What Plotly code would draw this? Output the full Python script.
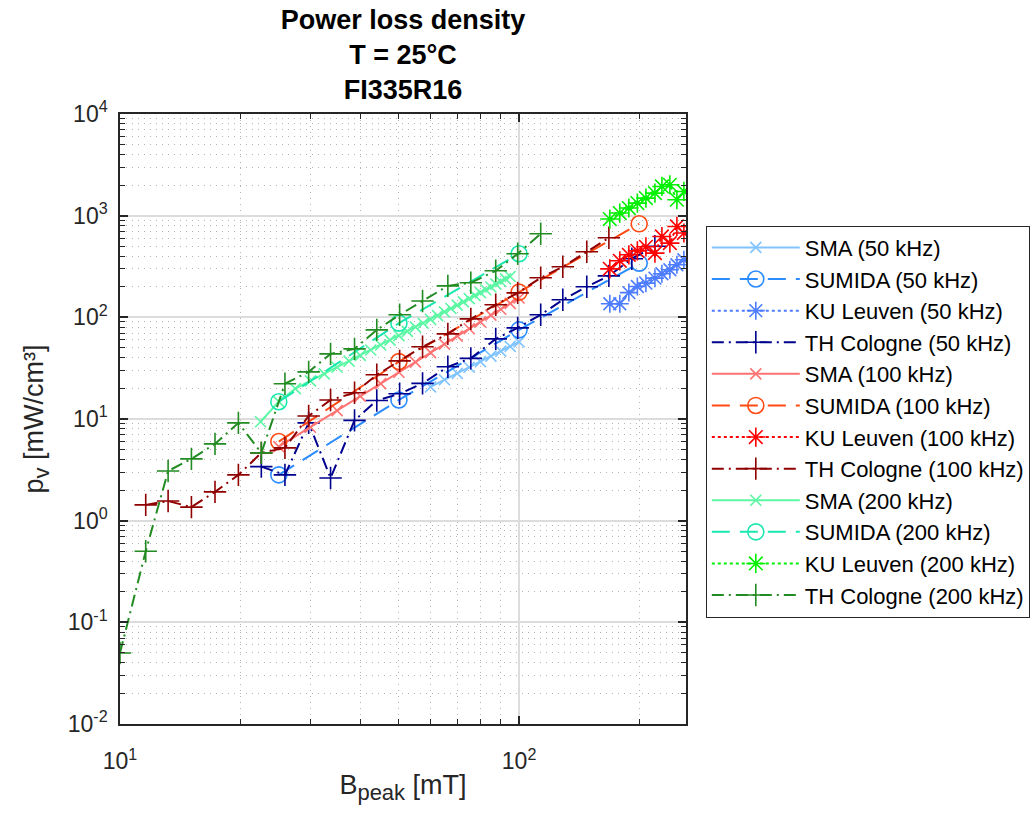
import math
import plotly.graph_objects as go

# ---------------- data ----------------
# SMA
B_sma50 = [60, 65, 70, 75, 80, 85, 90, 95, 100]
P_sma50 = [20.7, 24.3, 28.1, 32.3, 36.7, 41.5, 46.5, 51.8, 57.4]

B_sma100 = [25, 30, 35, 40, 45, 50, 55, 60, 65, 70, 75, 80, 85, 90, 95, 100]
P_sma100 = [5.35, 8.3, 12.1, 16.8, 22.3, 28.8, 36.3, 44.9, 54.5, 65.3, 77.2, 90.3, 105, 120, 137, 155]

B_sma200 = [22.5, 25, 27.5, 30, 32.5, 35, 37.5, 40, 42.5, 45, 47.5, 50, 52.5, 55, 57.5, 60,
            62.5, 65, 67.5, 70, 72.5, 75, 77.5, 80, 82.5, 85, 87.5, 90, 92.5, 95]
P_sma200 = [9.4, 14.8, 19.9, 23.7, 27.8, 32.3, 37.1, 42.2, 47.7, 53.5, 59.6, 66.1, 72.8, 80.0, 87.5, 95.4,
            104, 113, 122, 132, 142, 153, 164, 175, 187, 199, 212, 225, 239, 252]

# SUMIDA
B_sum = [25, 50, 100, 200]
P_sum50 = [2.82, 15.4, 75.3, 341]
P_sum100 = [6.0, 36.7, 177, 832]
B_sum200 = [25, 50, 100]
P_sum200 = [14.8, 87.7, 422]

# KU Leuven
B_ku = [168.8, 178.8, 188.4, 197.9, 207.9, 219, 228, 238.7, 248.6, 258.8]
P_ku50 = [136, 136, 175, 201, 217, 243, 268, 294, 329, 368]
P_ku100 = [300, 360, 412, 451, 494, 428, 624, 537, 783, 675]
P_ku200 = [926, 1061, 1189, 1330, 1489, 1667, 1938, 2014, 1434, 1731]

# TH Cologne
B_th200 = [10, 11.6, 13.2, 15.1, 17.3, 19.8, 22.6, 25.9, 29.7, 33.7, 38.7, 44, 50.2, 57.3,
           66.3, 75.7, 87.4, 99.2, 113.3]
P_th200 = [0.05, 0.50, 3.08, 4.05, 5.69, 9.16, 4.64, 22.2, 29.1, 43.7, 49, 75.3, 106, 145,
           204, 219, 287, 422, 663]
B_th100 = [11.6, 13.2, 15.1, 17.3, 19.8, 22.6, 25.9, 29.7, 33.7, 38.7, 44, 50.2, 57.3, 66.3,
           75.7, 87.4, 99.2, 113.3, 128.7, 147.8, 167.9]
P_th100 = [1.43, 1.56, 1.36, 1.92, 2.82, 4.64, 5.2, 10.7, 15.4, 18.1, 27.2, 37.3, 51.3, 68.8,
           96.6, 133, 174, 245, 314, 441, 606]
B_th50 = [22.6, 25.9, 29.7, 33.7, 38.7, 44, 50.2, 57.3, 66.3, 75.7, 87.4, 99.2, 113.3, 128.7,
          147.8, 167.9, 191.7, 218.9]
P_th50 = [3.40, 2.82, 9.16, 2.63, 9.7, 15.2, 17.7, 22.4, 32.6, 39.5, 61.4, 78.8, 106, 149,
          200, 256, 377, 500]

x_ticks = [10, 100]
x_ticktext = ["10<sup>1</sup>", "10<sup>2</sup>"]
y_ticks = [1e-2, 1e-1, 1, 10, 100, 1000, 10000]
y_ticktext = ["10<sup>-2</sup>", "10<sup>-1</sup>", "10<sup>0</sup>", "10<sup>1</sup>",
              "10<sup>2</sup>", "10<sup>3</sup>", "10<sup>4</sup>"]

# ---------------- styles ----------------
C = {
    "sma50": "#80C4FF", "sum50": "#2B8CFF", "ku50": "#4D7CFF", "th50": "#00008F",
    "sma100": "#FF7373", "sum100": "#FF4A12", "ku100": "#FF0000", "th100": "#8F0000",
    "sma200": "#5CF7A4", "sum200": "#1AE8AE", "ku200": "#00F000", "th200": "#228B22",
}

series = [
    ("SMA (50 kHz)", B_sma50, P_sma50, C["sma50"], "solid", "x-thin-open", 11),
    ("SUMIDA (50 kHz)", B_sum, P_sum50, C["sum50"], "18px,10px", "circle-open", 16),
    ("KU Leuven (50 kHz)", B_ku, P_ku50, C["ku50"], "dot", "asterisk-open", 15),
    ("TH Cologne (50 kHz)", B_th50, P_th50, C["th50"], "12px,5px,2px,5px", "cross-thin-open", 16),
    ("SMA (100 kHz)", B_sma100, P_sma100, C["sma100"], "solid", "x-thin-open", 11),
    ("SUMIDA (100 kHz)", B_sum, P_sum100, C["sum100"], "18px,10px", "circle-open", 16),
    ("KU Leuven (100 kHz)", B_ku, P_ku100, C["ku100"], "dot", "asterisk-open", 16),
    ("TH Cologne (100 kHz)", B_th100, P_th100, C["th100"], "12px,5px,2px,5px", "cross-thin-open", 16),
    ("SMA (200 kHz)", B_sma200, P_sma200, C["sma200"], "solid", "x-thin-open", 11),
    ("SUMIDA (200 kHz)", B_sum200, P_sum200, C["sum200"], "18px,10px", "circle-open", 16),
    ("KU Leuven (200 kHz)", B_ku, P_ku200, C["ku200"], "dot", "asterisk-open", 16),
    ("TH Cologne (200 kHz)", B_th200, P_th200, C["th200"], "12px,5px,2px,5px", "cross-thin-open", 16),
]

fig = go.Figure()
for name, xs, ys, col, dash, sym, size in series:
    fig.add_trace(go.Scatter(
        x=xs, y=ys, name=name, mode="lines+markers",
        line=dict(color=col, width=2, dash=dash),
        marker=dict(symbol=sym, size=size, color=col, line=dict(color=col, width=1.6)),
    ))

def minor_vals(lo, hi):
    vals = []
    for e in range(lo, hi):
        for m in range(2, 10):
            vals.append(m * 10 ** e)
    return vals

FONT = "Liberation Sans, Arial, sans-serif"
AX = "#262626"

fig.update_layout(
    width=1036, height=825,
    margin=dict(l=120, r=350, t=114, b=101, autoexpand=False),
    paper_bgcolor="white", plot_bgcolor="white",
    font=dict(family=FONT, color="#262626", size=22),
    title=dict(
        text="<b>Power loss density</b><br><b>T = 25°C</b><br><b>FI335R16</b>",
        x=0.5, xref="paper", xanchor="center",
        y=0.965, yref="container", yanchor="top",
        font=dict(family=FONT, size=27, color="black"),
    ),
    showlegend=True,
    legend=dict(
        x=1.035, y=0.817, xanchor="left", yanchor="top",
        bgcolor="white", bordercolor=AX, borderwidth=1,
        font=dict(family=FONT, size=22, color="black"),
        itemwidth=88, tracegroupgap=0,
    ),
    xaxis=dict(
        type="log", range=[1, math.log10(262)],
        tickmode="array", tickvals=x_ticks, ticktext=x_ticktext,
        ticks="inside", ticklen=8, tickwidth=1.5, tickcolor=AX,
        ticklabelstandoff=16,
        showline=True, linecolor=AX, linewidth=1.5, mirror="ticks",
        showgrid=True, gridcolor="#dcdcdc", gridwidth=1.5,
        tickfont=dict(size=23, family=FONT, color="#262626"),
        zeroline=False,
        minor=dict(tickmode="array", tickvals=minor_vals(1, 3), ticks="inside", ticklen=5,
                   tickcolor=AX, tickwidth=1.2, showgrid=True, gridcolor="#b4b4b4",
                   griddash="1px,5px", gridwidth=1),
        title=dict(text='B<sub><span style="font-size:22px">peak</span></sub> [mT]',
                   font=dict(size=27, family=FONT, color="#262626"),
                   standoff=2),
    ),
    yaxis=dict(
        type="log", range=[-2, 4],
        tickmode="array", tickvals=y_ticks, ticktext=y_ticktext,
        ticks="inside", ticklen=8, tickwidth=1.5, tickcolor=AX,
        ticklabelstandoff=6,
        showline=True, linecolor=AX, linewidth=1.5, mirror="ticks",
        showgrid=True, gridcolor="#dcdcdc", gridwidth=1.5,
        tickfont=dict(size=23, family=FONT, color="#262626"),
        zeroline=False,
        minor=dict(tickmode="array", tickvals=minor_vals(-2, 4), ticks="inside", ticklen=5,
                   tickcolor=AX, tickwidth=1.2, showgrid=True, gridcolor="#b4b4b4",
                   griddash="1px,5px", gridwidth=1),
        title=dict(text='p<sub><span style="font-size:22px">v</span></sub> [mW/cm³]',
                   font=dict(size=27, family=FONT, color="#262626"),
                   standoff=16),
    ),
)

fig.write_html("out.html")
